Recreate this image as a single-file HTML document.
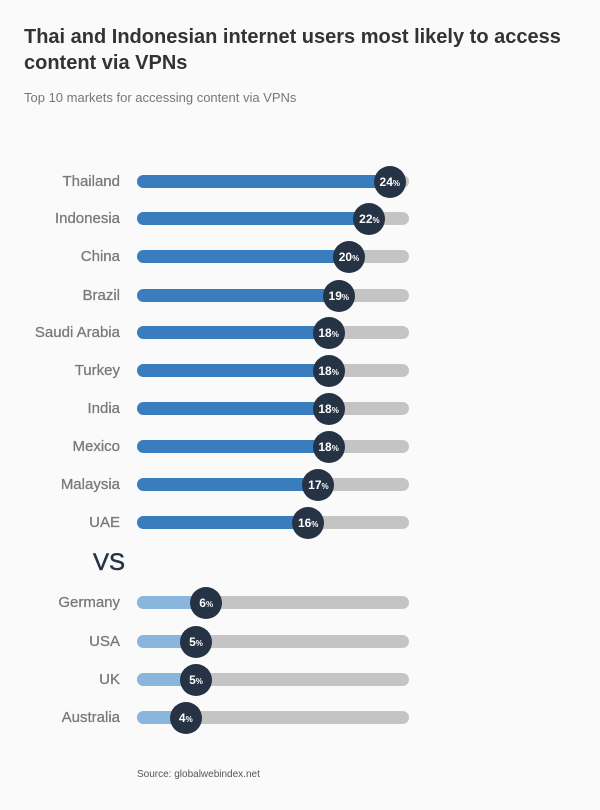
<!DOCTYPE html>
<html><head><style>
body{margin:0;width:600px;height:810px;background:#fafafa;font-family:"Liberation Sans",sans-serif;position:relative;overflow:hidden}
.t{position:absolute;left:24px;top:24px;width:560px;font-size:20px;font-weight:bold;color:#333;line-height:26px}
.s{position:absolute;left:24px;top:90px;font-size:13px;color:#777}
.l{position:absolute;right:480px;font-size:15px;color:#7a7a7a;line-height:16px;text-align:right;white-space:nowrap;-webkit-text-stroke:0.3px #7a7a7a}
.tr{position:absolute;left:137px;width:272px;height:13px;border-radius:7px;background:#c4c4c4}
.f{position:absolute;left:0;top:0;height:13px;border-radius:7px}
.c{position:absolute;width:32px;height:32px;border-radius:50%;background:#253345;color:#fff;font-size:12px;font-weight:bold;text-align:center;line-height:32px}
.c small{font-size:8px}
.vs{position:absolute;left:93px;top:549px;font-size:24px;color:#253345;-webkit-text-stroke:0.5px #253345}
.src{position:absolute;left:137px;top:769px;font-size:10px;color:#555}
</style></head><body>
<div class="t">Thai and Indonesian internet users most likely to access content via VPNs</div>
<div class="s">Top 10 markets for accessing content via VPNs</div>
<div class="vs">VS</div>
<div class="src">Source: globalwebindex.net</div>
<div id="r"></div>
<script>
var d=[["Thailand",24,181],["Indonesia",22,218],["China",20,256],["Brazil",19,295],["Saudi Arabia",18,332],["Turkey",18,370],["India",18,408],["Mexico",18,446],["Malaysia",17,484],["UAE",16,522],["Germany",6,602],["USA",5,641],["UK",5,679],["Australia",4,717]];
var h="";
d.forEach(function(e,i){var cx=145+e[1]*10.2,y=e[2];var col=i<10?"#3a7dbf":"#8ab6de";
h+='<div class="l" style="top:'+(y-7)+'px">'+e[0]+'</div>';
h+='<div class="tr" style="top:'+(y-6)+'px"><div class="f" style="width:'+(cx-137)+'px;background:'+col+'"></div></div>';
h+='<div class="c" style="left:'+(cx-16)+'px;top:'+(y-15)+'px">'+e[1]+'<small>%</small></div>';});
document.getElementById("r").innerHTML=h;
</script>
</body></html>
